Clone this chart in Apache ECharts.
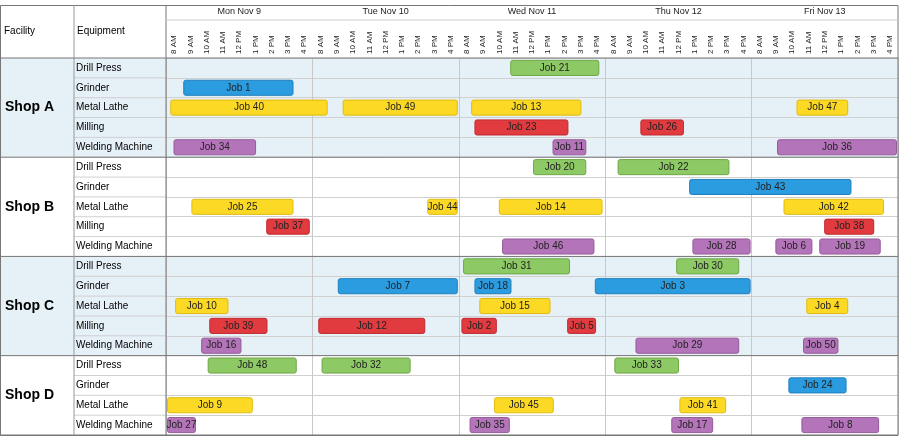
<!DOCTYPE html>
<html>
<head>
<meta charset="utf-8">
<script src="https://cdn.jsdelivr.net/npm/echarts@6/dist/echarts.min.js"></script>
<style>html,body{margin:0;padding:0;background:#fff}#chart{width:900px;height:441px}</style>
</head>
<body>
<div id="chart"></div>
<script>
// Dữ liệu
const days = ['Mon Nov 9', 'Tue Nov 10', 'Wed Nov 11', 'Thu Nov 12', 'Fri Nov 13'];
const hours = ['8 AM', '9 AM', '10 AM', '11 AM', '12 PM', '1 PM', '2 PM', '3 PM', '4 PM'];
const shops = ['Shop A', 'Shop B', 'Shop C', 'Shop D'];
const shopRowCount = [5, 5, 5, 4];
const equipment = [
  'Drill Press', 'Grinder', 'Metal Lathe', 'Milling', 'Welding Machine',
  'Drill Press', 'Grinder', 'Metal Lathe', 'Milling', 'Welding Machine',
  'Drill Press', 'Grinder', 'Metal Lathe', 'Milling', 'Welding Machine',
  'Drill Press', 'Grinder', 'Metal Lathe', 'Welding Machine'
];
// thời gian tính bằng giờ làm việc kể từ 8 AM thứ Hai (9 giờ / ngày)
const jobNames  = ['Job 21','Job 1','Job 40','Job 49','Job 13','Job 47','Job 23','Job 26','Job 34','Job 11','Job 36',
  'Job 20','Job 22','Job 43','Job 25','Job 44','Job 14','Job 42','Job 37','Job 38','Job 46','Job 28','Job 6','Job 19',
  'Job 31','Job 30','Job 7','Job 18','Job 3','Job 10','Job 15','Job 4','Job 39','Job 12','Job 2','Job 5','Job 16','Job 29','Job 50',
  'Job 48','Job 32','Job 33','Job 24','Job 9','Job 45','Job 41','Job 27','Job 35','Job 17','Job 8'];
const jobRows   = [0,1,2,2,2,2,3,3,4,4,4,
  5,5,6,7,7,7,7,8,8,9,9,9,9,
  10,10,11,11,11,12,12,12,13,13,13,13,14,14,14,
  15,15,15,16,17,17,17,18,18,18,18];
const jobStarts = [21.1,1.0,0.2,10.8,18.7,38.7,18.9,29.1,0.4,23.7,37.5,
  22.5,27.7,32.1,1.5,16.0,20.4,37.9,6.1,40.4,20.6,32.3,37.4,40.1,
  18.2,31.3,10.5,18.9,26.3,0.5,19.2,39.3,2.6,9.3,18.1,24.6,2.1,28.8,39.1,
  2.5,9.5,27.5,38.2,0,20.1,31.5,0,18.6,31.0,39.0];
const jobEnds   = [26.7,7.9,10.0,18.0,25.6,42.0,24.8,31.9,5.6,25.9,45,
  25.9,34.7,42.2,7.9,18.0,26.9,44.2,8.9,43.6,26.4,36.0,39.8,44.0,
  24.9,35.3,18.0,21.3,36.0,3.9,23.7,42.0,6.3,16.0,20.4,26.5,4.7,35.3,41.4,
  8.1,15.1,31.6,41.9,5.4,23.9,34.5,1.9,21.2,33.7,43.9];

const colors = {
  'Drill Press': ['#8dc964', '#6fa845'],
  'Grinder': ['#2b9ce0', '#1f7fbd'],
  'Metal Lathe': ['#fcd925', '#e0bb10'],
  'Milling': ['#e13b40', '#bf2a2e'],
  'Welding Machine': ['#b474b9', '#955a9a']
};

const L = 166, T = 58, W = 732, H = 377, RH = H / 19;
const font = 'Liberation Sans';

const chart = echarts.init(document.getElementById('chart'));

const data = jobNames.map((n, i) => [jobStarts[i], jobEnds[i], jobRows[i], n]);

// khung bảng bên trái + nền
const graphics = [];
let r0 = 0;
shops.forEach((s, k) => {
  const y0 = T + r0 * RH, h = shopRowCount[k] * RH;
  if (k % 2 === 0) graphics.push({ type: 'rect', z: -10, shape: { x: 0, y: y0, width: 898, height: h }, style: { fill: '#e6f0f7' } });
  graphics.push({ type: 'text', x: 5, y: y0 + h / 2, style: { text: s, font: 'bold 14px ' + font, fill: '#000', verticalAlign: 'middle' } });
  graphics.push({ type: 'line', z: 10, shape: { x1: 0, y1: y0 + h, x2: 898, y2: y0 + h }, style: { stroke: '#777', lineWidth: 1 } });
  r0 += shopRowCount[k];
});
for (let i = 1; i < 19; i++) {
  graphics.push({ type: 'line', z: 1, shape: { x1: 74, y1: T + i * RH, x2: L, y2: T + i * RH }, style: { stroke: '#d0d0d0' } });
}
graphics.push(
  { type: 'rect', z: 10, shape: { x: 0.5, y: 5.5, width: 897.5, height: 430 }, style: { fill: 'none', stroke: '#777' } },
  { type: 'line', z: 10, shape: { x1: 74, y1: 5, x2: 74, y2: 435 }, style: { stroke: '#999' } },
  { type: 'line', z: 10, shape: { x1: L, y1: 5, x2: L, y2: 435 }, style: { stroke: '#777' } },
  { type: 'line', z: 10, shape: { x1: 0, y1: T, x2: 898, y2: T }, style: { stroke: '#777' } },
  { type: 'line', z: 10, shape: { x1: L, y1: 20, x2: 898, y2: 20 }, style: { stroke: '#ccc' } },
  { type: 'text', x: 4, y: 31, style: { text: 'Facility', font: '10px ' + font, fill: '#000', verticalAlign: 'middle' } },
  { type: 'text', x: 77, y: 31, style: { text: 'Equipment', font: '10px ' + font, fill: '#000', verticalAlign: 'middle' } }
);

const option = {
  animation: false,
  grid: { left: L, top: T, width: W, height: H },
  graphic: graphics,
  xAxis: [
    {
      type: 'value', min: 0, max: 45, interval: 9,
      axisLabel: { show: false }, axisTick: { show: false }, axisLine: { show: false },
      splitLine: { lineStyle: { color: '#c8c8c8' } }
    },
    {
      type: 'category', position: 'top', data: days.flatMap(() => hours),
      axisLine: { show: false },
      axisTick: { length: 38, inside: false, lineStyle: { color: '#e0e0e0' } },
      axisLabel: { rotate: -90, fontSize: 8, fontFamily: font, color: '#222', margin: 4, interval: 0, align: 'left', verticalAlign: 'middle' }
    },
    {
      type: 'category', position: 'top', offset: 38, data: days,
      axisLine: { show: false },
      axisTick: { length: 15, lineStyle: { color: '#ccc' } },
      axisLabel: { fontSize: 9, fontFamily: font, color: '#222', margin: 4 }
    }
  ],
  yAxis: {
    type: 'category', inverse: true, data: equipment,
    axisLine: { show: false }, axisTick: { show: false },
    axisLabel: { align: 'left', margin: 90, fontSize: 10, fontFamily: font, color: '#000' },
    splitLine: { show: true, interval: 0, lineStyle: { color: '#d0d0d0' } }
  },
  series: [{
    type: 'custom',
    xAxisIndex: 0,
    encode: { x: [0, 1], y: 2 },
    data: data,
    renderItem: (params, api) => {
      const a = api.coord([api.value(0), api.value(2)]);
      const b = api.coord([api.value(1), api.value(2)]);
      const h = api.size([0, 1])[1] * 0.76;
      const c = colors[equipment[api.value(2)]];
      const x = a[0] + 1.5, w = b[0] - a[0] - 3;
      return {
        type: 'rect',
        shape: { x: x, y: a[1] - h / 2, width: w, height: h, r: 2 },
        style: { fill: c[0], stroke: c[1], lineWidth: 1 },
        textContent: { style: { text: jobNames[params.dataIndex], font: '10px ' + font, fill: '#222' } },
        textConfig: { position: 'inside' }
      };
    }
  }]
};

chart.setOption(option);
window.addEventListener('resize', () => chart.resize());
</script>
</body>
</html>
